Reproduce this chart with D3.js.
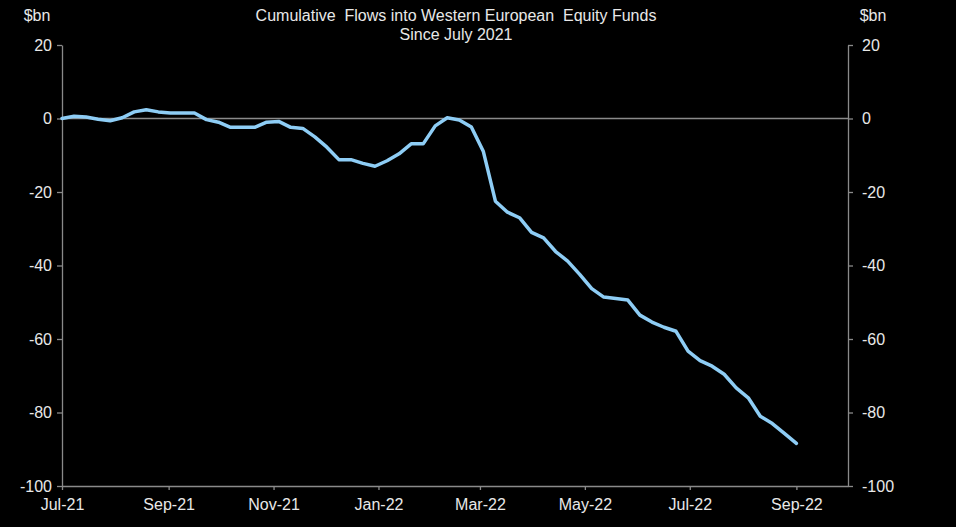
<!DOCTYPE html>
<html>
<head>
<meta charset="utf-8">
<script src="https://cdn.jsdelivr.net/npm/d3@7"></script>
<style>
  html, body { margin: 0; padding: 0; background: #000; }
  svg text { font-family: "Liberation Sans", Arial, sans-serif; fill: #e8e8e8; }
</style>
</head>
<body>
<svg id="chart" width="956" height="527"></svg>
<script>
// Weekly cumulative flows, $bn
const weeks = [
  '2021-07-01', '2021-07-08', '2021-07-15', '2021-07-22', '2021-07-29',
  '2021-08-05', '2021-08-12', '2021-08-19', '2021-08-26',
  '2021-09-02', '2021-09-09', '2021-09-16', '2021-09-23', '2021-09-30',
  '2021-10-07', '2021-10-14', '2021-10-21', '2021-10-28',
  '2021-11-04', '2021-11-11', '2021-11-18', '2021-11-25',
  '2021-12-02', '2021-12-09', '2021-12-16', '2021-12-23', '2021-12-30',
  '2022-01-06', '2022-01-13', '2022-01-20', '2022-01-27',
  '2022-02-03', '2022-02-10', '2022-02-17', '2022-02-24',
  '2022-03-03', '2022-03-10', '2022-03-17', '2022-03-24', '2022-03-31',
  '2022-04-07', '2022-04-14', '2022-04-21', '2022-04-28',
  '2022-05-05', '2022-05-12', '2022-05-19', '2022-05-26',
  '2022-06-02', '2022-06-09', '2022-06-16', '2022-06-23', '2022-06-30',
  '2022-07-07', '2022-07-14', '2022-07-21', '2022-07-28',
  '2022-08-04', '2022-08-11', '2022-08-18', '2022-08-25',
  '2022-09-01'
];

const flows = [
  0, 0.6, 0.4, -0.2, -0.6,
  0.2, 1.8, 2.4, 1.8,
  1.5, 1.5, 1.5, -0.3, -1.0,
  -2.4, -2.4, -2.4, -1.0,
  -0.8, -2.4, -2.7, -5.0,
  -7.8, -11.2, -11.2, -12.2, -13.0,
  -11.5, -9.6, -6.9, -6.9,
  -2.0, 0.2, -0.4, -2.3,
  -9.0, -22.5, -25.5, -27.0, -31.0,
  -32.5, -36.2, -38.8, -42.4,
  -46.3, -48.6, -49.0, -49.4,
  -53.5, -55.4, -56.8, -57.9, -63.3,
  -65.9, -67.4, -69.6, -73.3,
  -76.0, -81.0, -83.0, -85.7,
  -88.4
];

const yTicks = [20, 0, -20, -40, -60, -80, -100];
const xTickDates = ['2021-07-01', '2021-09-01', '2021-11-01', '2022-01-01',
                    '2022-03-01', '2022-05-01', '2022-07-01', '2022-09-01'];

const titleLines = ['Cumulative  Flows into Western European  Equity Funds', 'Since July 2021'];
const unitLabel = '$bn';

const parse = d3.timeParse('%Y-%m-%d');
const data = weeks.map((w, i) => ({ date: parse(w), value: flows[i] }));

const margin = { left: 62, right: 108, top: 45, bottom: 41 };
const W = 956, H = 527;
const AXIS = '#8a8a8a';
const FONT = '16px';

const svg = d3.select('#chart');

const x = d3.scaleTime()
  .domain([parse('2021-07-01'), parse('2022-10-01')])
  .range([margin.left, W - margin.right]);

const y = d3.scaleLinear()
  .domain([-100, 20])
  .range([H - margin.bottom, margin.top]);

// plain hyphen for negatives, like the original
const yFmt = d => String(d);

// Zero line
svg.append('line')
  .attr('x1', x.range()[0]).attr('x2', x.range()[1])
  .attr('y1', y(0)).attr('y2', y(0))
  .attr('stroke', AXIS).attr('stroke-width', 1.3);

// Left axis
const left = svg.append('g')
  .attr('transform', `translate(${margin.left},0)`)
  .call(d3.axisLeft(y).tickValues(yTicks).tickFormat(yFmt)
    .tickSize(5).tickPadding(5).tickSizeOuter(0));

// Right axis
const right = svg.append('g')
  .attr('transform', `translate(${W - margin.right},0)`)
  .call(d3.axisRight(y).tickValues(yTicks).tickFormat(yFmt)
    .tickSize(5).tickPadding(9).tickSizeOuter(0));

// Bottom axis
const bottom = svg.append('g')
  .attr('transform', `translate(0,${H - margin.bottom})`)
  .call(d3.axisBottom(x)
    .tickValues(xTickDates.map(parse))
    .tickFormat(d3.timeFormat('%b-%y'))
    .tickSize(4).tickPadding(9).tickSizeOuter(0));

[left, right, bottom].forEach(g => {
  g.select('.domain').attr('stroke', AXIS).attr('stroke-width', 1.3);
  g.selectAll('.tick line').attr('stroke', AXIS).attr('stroke-width', 1.3);
  g.selectAll('.tick text')
    .style('font-family', '"Liberation Sans", Arial, sans-serif')
    .style('font-size', FONT)
    .attr('fill', '#e8e8e8');
});

// Series line
svg.append('path')
  .datum(data)
  .attr('fill', 'none')
  .attr('stroke', '#8ecdf5')
  .attr('stroke-width', 3.5)
  .attr('stroke-linejoin', 'round')
  .attr('stroke-linecap', 'round')
  .attr('d', d3.line().x(d => x(d.date)).y(d => y(d.value)));

// Title (keep the double spaces)
svg.append('g')
  .selectAll('text')
  .data(titleLines)
  .join('text')
  .attr('x', 456)
  .attr('y', (d, i) => 21 + i * 19)
  .attr('text-anchor', 'middle')
  .style('font-size', FONT)
  .style('white-space', 'pre')
  .text(d => d);

// Unit labels
svg.append('text')
  .attr('x', 37).attr('y', 21)
  .attr('text-anchor', 'middle')
  .style('font-size', FONT)
  .text(unitLabel);

svg.append('text')
  .attr('x', 873).attr('y', 21)
  .attr('text-anchor', 'middle')
  .style('font-size', FONT)
  .text(unitLabel);
</script>
</body>
</html>
